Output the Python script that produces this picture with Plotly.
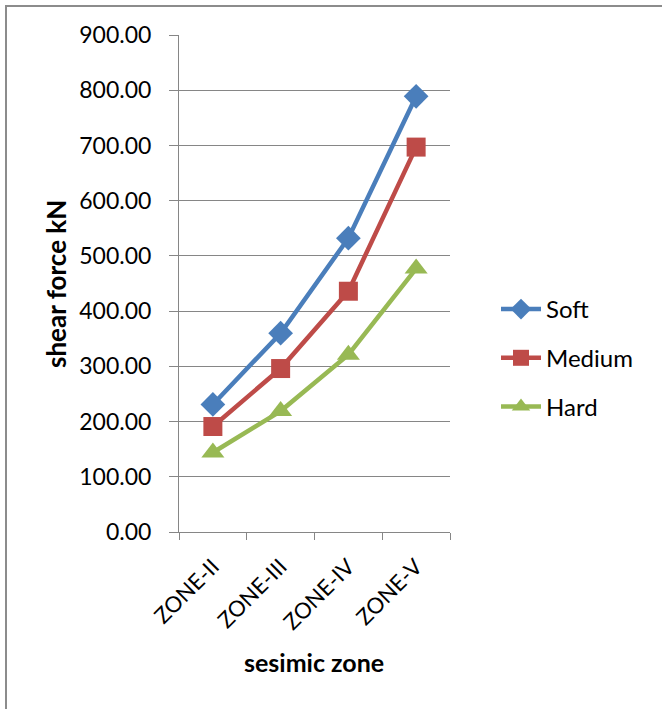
import plotly.graph_objects as go

# Shear force (kN) by seismic zone for three soil types
zones = ["ZONE-II", "ZONE-III", "ZONE-IV", "ZONE-V"]
soft = [231, 360, 532, 789]
medium = [191, 296, 436, 697]
hard = [144, 219, 321, 477]

W, H = 662, 709
L, R, T, B = 179, 212, 35, 177
pw, ph = W - L - R, H - T - B


def px_x(p):
    return (p - L) / pw


def px_y(p):
    return (H - B - p) / ph


FONT = "Lato"
GRID = "#868686"

fig = go.Figure()
series = [
    ("Soft", soft, "#4A7EBB", "diamond", 19),
    ("Medium", medium, "#BE4B48", "square", 19),
    ("Hard", hard, "#98B954", "triangle-up", 20),
]
for i, (name, vals, color, sym, size) in enumerate(series):
    fig.add_trace(go.Scatter(
        x=zones, y=vals, name=name, mode="lines+markers",
        line=dict(color=color, width=4.5),
        marker=dict(symbol=sym, size=size, color=color),
        legendgroup=f"g{i}",
    ))

fig.update_layout(
    width=W, height=H,
    margin=dict(l=L, r=R, t=T, b=B),
    paper_bgcolor="white", plot_bgcolor="white",
    font=dict(family=FONT, color="#000000"),
    showlegend=True,
    legend=dict(
        x=px_x(496), y=px_y(287), xanchor="left", yanchor="top",
        font=dict(size=24, family=FONT), tracegroupgap=14.5,
        bgcolor="rgba(0,0,0,0)", itemwidth=40,
    ),
    xaxis=dict(
        type="category", tickson="boundaries", range=[-0.5, 3.5],
        showgrid=False, showline=True, linecolor=GRID, linewidth=1,
        ticks="outside", ticklen=7, tickcolor=GRID,
        tickangle=-45, tickfont=dict(size=22, family=FONT),
        ticklabelstandoff=12,
    ),
    yaxis=dict(
        range=[0, 900], dtick=100, tickformat=".2f",
        showgrid=True, gridcolor=GRID, gridwidth=1,
        showline=True, linecolor=GRID, linewidth=1,
        ticks="outside", ticklen=9, tickcolor=GRID,
        tickfont=dict(size=23, family=FONT), zeroline=False,
        ticklabelstandoff=13,
    ),
    annotations=[
        dict(text="<b>shear force kN</b>", xref="paper", yref="paper",
             x=px_x(56), y=px_y(284), textangle=-90, showarrow=False,
             xanchor="center", yanchor="middle",
             font=dict(size=26, family=FONT)),
        dict(text="<b>sesimic zone</b>", xref="paper", yref="paper",
             x=px_x(314), y=px_y(662), showarrow=False,
             xanchor="center", yanchor="middle",
             font=dict(size=25, family=FONT)),
    ],
    shapes=[
        dict(type="line", xref="paper", yref="paper",
             x0=px_x(5), x1=px_x(662), y0=px_y(6), y1=px_y(6),
             line=dict(color="#8C8C8C", width=2)),
        dict(type="line", xref="paper", yref="paper",
             x0=px_x(6), x1=px_x(6), y0=px_y(5), y1=px_y(709),
             line=dict(color="#8C8C8C", width=2)),
    ],
)

fig.write_html("out.html")
